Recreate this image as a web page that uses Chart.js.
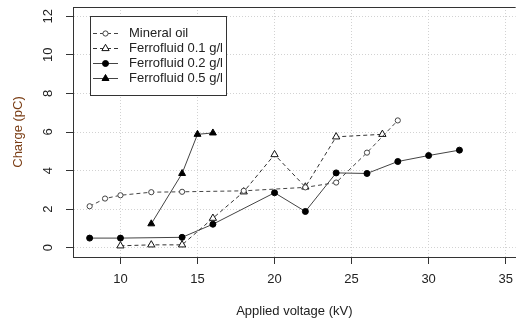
<!DOCTYPE html>
<html>
<head>
<meta charset="utf-8">
<script src="https://cdn.jsdelivr.net/npm/chart.js@4.4.1/dist/chart.umd.min.js"></script>
<style>
  html, body { margin: 0; padding: 0; background: #fff; }
  #wrap { width: 521px; height: 327px; }
</style>
</head>
<body>
<div id="wrap"><canvas id="chargeChart"></canvas></div>
<script>
// Applied voltage (kV) and measured charge (pC) for each liquid
const oilVoltage = [8, 9, 10, 12, 14, 18, 22, 24, 26, 28];
const oilCharge = [2.15, 2.55, 2.72, 2.88, 2.9, 2.95, 3.13, 3.38, 4.93, 6.6];

const ff01Voltage = [10, 12, 14, 16, 18, 20, 22, 24, 27];
const ff01Charge = [0.1, 0.15, 0.15, 1.53, 2.9, 4.83, 3.15, 5.75, 5.88];

const ff02Voltage = [8, 10, 14, 16, 20, 22, 24, 26, 28, 30, 32];
const ff02Charge = [0.5, 0.5, 0.54, 1.22, 2.85, 1.88, 3.88, 3.85, 4.47, 4.78, 5.06];

const ff05Voltage = [12, 14, 15, 16];
const ff05Charge = [1.24, 3.85, 5.88, 5.95];

const seriesNames = ['Mineral oil', 'Ferrofluid 0.1 g/l', 'Ferrofluid 0.2 g/l', 'Ferrofluid 0.5 g/l'];
const xTicks = [10, 15, 20, 25, 30, 35];
const yTicks = [0, 2, 4, 6, 8, 10, 12];

const toPoints = (xs, ys) => xs.map((x, i) => ({ x: x, y: ys[i] }));

const fontFamily = "'Liberation Sans', Arial, sans-serif";
Chart.defaults.font.family = fontFamily;
Chart.defaults.color = '#222';

const ink = '#222';
const gridColor = '#d2d2d2';

// legend box, top frame line and rotated y labels
const frameAndLegend = {
    id: 'frameAndLegend',
    afterDraw(chart) {
        const ctx = chart.ctx;
        const area = chart.chartArea;
        const yScale = chart.scales.y;
        ctx.save();

        // top edge of the plot box
        ctx.strokeStyle = '#333';
        ctx.lineWidth = 1;
        ctx.beginPath();
        ctx.moveTo(area.left, area.top + 0.5);
        ctx.lineTo(area.right, area.top + 0.5);
        ctx.stroke();

        // y tick labels, written along the axis
        ctx.fillStyle = ink;
        ctx.font = '13px ' + fontFamily;
        ctx.textAlign = 'center';
        ctx.textBaseline = 'middle';
        yTicks.forEach(v => {
            ctx.save();
            ctx.translate(48, yScale.getPixelForValue(v));
            ctx.rotate(-Math.PI / 2);
            ctx.fillText(String(v), 0, 0);
            ctx.restore();
        });

        // legend
        const bx = 90.5, by = 16.5, bw = 136, bh = 79;
        ctx.fillStyle = '#fff';
        ctx.fillRect(bx, by, bw, bh);
        ctx.strokeStyle = '#333';
        ctx.strokeRect(bx, by, bw, bh);
        ctx.font = '13px ' + fontFamily;
        ctx.textAlign = 'left';
        chart.data.datasets.forEach((ds, i) => {
            const y = 33.5 + i * 15;
            ctx.strokeStyle = ds.borderColor;
            ctx.lineWidth = 1;
            ctx.setLineDash(ds.borderDash || []);
            ctx.beginPath();
            ctx.moveTo(93, y);
            ctx.lineTo(118, y);
            ctx.stroke();
            ctx.setLineDash([]);
            ctx.fillStyle = ds.pointBackgroundColor;
            ctx.strokeStyle = ds.pointBorderColor;
            Chart.helpers.drawPoint(ctx, {
                pointStyle: ds.pointStyle,
                radius: ds.pointRadius,
                borderWidth: 1,
                rotation: 0
            }, 105.5, y);
            ctx.fillStyle = ink;
            ctx.fillText(ds.label, 129, y);
        });
        ctx.restore();
    }
};

const lineBase = {
    borderWidth: 1,
    pointBorderWidth: 1,
    pointHoverRadius: 0,
    fill: false,
    tension: 0
};

const data = {
    datasets: [
        Object.assign({}, lineBase, { // open circles, dashed
            label: seriesNames[0],
            data: toPoints(oilVoltage, oilCharge),
            borderColor: '#444',
            borderDash: [4, 3],
            pointStyle: 'circle',
            pointRadius: 2.6,
            pointBackgroundColor: '#fff',
            pointBorderColor: '#444'
        }),
        Object.assign({}, lineBase, { // open triangles, dashed
            label: seriesNames[1],
            data: toPoints(ff01Voltage, ff01Charge),
            borderColor: '#333',
            borderDash: [4, 3],
            pointStyle: 'triangle',
            pointRadius: 4.2,
            pointBackgroundColor: '#fff',
            pointBorderColor: '#111'
        }),
        Object.assign({}, lineBase, { // filled circles, solid
            label: seriesNames[2],
            data: toPoints(ff02Voltage, ff02Charge),
            borderColor: '#444',
            pointStyle: 'circle',
            pointRadius: 3,
            pointBackgroundColor: '#000',
            pointBorderColor: '#000'
        }),
        Object.assign({}, lineBase, { // filled triangles, solid
            label: seriesNames[3],
            data: toPoints(ff05Voltage, ff05Charge),
            borderColor: '#444',
            pointStyle: 'triangle',
            pointRadius: 4,
            pointBackgroundColor: '#000',
            pointBorderColor: '#000'
        })
    ]
};

const config = {
    type: 'line',
    data,
    options: {
        responsive: true,
        maintainAspectRatio: false,
        animation: false,
        events: [],
        layout: { padding: { top: 7, right: 0, left: 0, bottom: 0 } },
        plugins: {
            legend: { display: false },
            tooltip: { enabled: false }
        },
        scales: {
            x: {
                type: 'linear',
                min: 6.92,
                max: 35.65,
                afterBuildTicks: axis => { axis.ticks = xTicks.map(v => ({ value: v })); },
                afterFit: axis => { axis.height = 70; },
                ticks: {
                    color: ink,
                    font: { size: 13 },
                    padding: 8,
                    maxRotation: 0
                },
                grid: {
                    color: gridColor,
                    lineWidth: 1,
                    tickLength: 7,
                    tickColor: '#333',
                    tickBorderDash: []
                },
                border: { display: true, color: '#333', width: 1, dash: [1, 2] },
                title: {
                    display: true,
                    text: 'Applied voltage (kV)',
                    color: ink,
                    font: { size: 13 },
                    padding: { top: 0, bottom: 8 }
                }
            },
            y: {
                type: 'linear',
                min: -0.48,
                max: 12.48,
                afterBuildTicks: axis => { axis.ticks = yTicks.map(v => ({ value: v })); },
                afterFit: axis => { axis.width = 73; },
                ticks: { display: false },
                grid: {
                    color: gridColor,
                    lineWidth: 1,
                    tickLength: 7,
                    tickColor: '#333',
                    tickBorderDash: []
                },
                border: { display: true, color: '#333', width: 1, dash: [1, 2] },
                title: {
                    display: true,
                    text: 'Charge (pC)',
                    color: '#7a3d14',
                    font: { size: 13 },
                    padding: { top: 11, bottom: 0 }
                }
            }
        }
    },
    plugins: [frameAndLegend]
};

new Chart(document.getElementById('chargeChart'), config);
</script>
</body>
</html>
